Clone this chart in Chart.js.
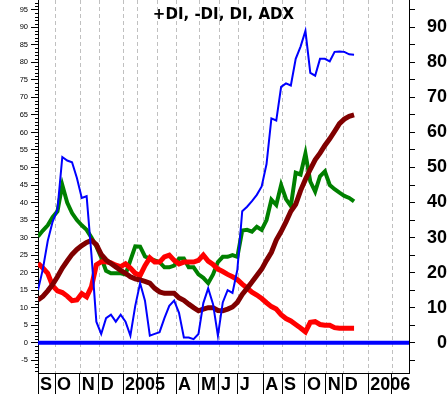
<!DOCTYPE html>
<html><head><meta charset="utf-8">
<script src="https://cdn.jsdelivr.net/npm/chart.js@4/dist/chart.umd.min.js"></script>
<style>html,body{margin:0;padding:0;background:#fff;}canvas{display:block;}</style>
</head><body>
<canvas id="c" width="447" height="394"></canvas>
<script>
const titleText = '+DI, -DI, DI, ADX';
const monthLabels = ['S','O','N','D','2005','','','A','M','J','J','A','S','O','N','D','2006',''];
const monthStartWeeks = [0, 3.5, 8.6, 12.5, 17.5, 20.4, 24.5, 28.4, 33.1, 37.2, 41.1, 46.3, 50.2, 54.9, 59.2, 62.7, 67.9, 72.8];
const diLine = [15,21,29,34.5,38,53,52,51.5,47,41.3,41.8,25,6,2.5,7,8,6,8,6,2,10.5,17,12,2,2.5,3,7,10.5,12,8.5,1.5,1.5,1,2.5,11.3,15.5,11,2,11.5,15,14.2,20.8,37.5,38.8,40.4,42.2,44.6,51,64,63.4,73,74,73.4,81,84.5,89,77,76.2,81,81,80.3,83,83.1,83,82.3,82.2];
const plusDI = [30.3,32,33.5,35.8,37.5,45,40,37,35,33.5,32.2,30,27.5,24.3,20.5,19.8,19.8,19.8,19.5,23.5,27.5,27.4,24.6,24,23.5,23,21.5,21.5,22,24,24,21.5,21.5,19.5,18.5,17,19.5,23,24.5,24.5,25,24.5,32,32.2,31.7,33.1,32.2,35,40.8,39.3,45,41,39,48.5,48,54,46,43.1,47.5,48.9,45,43.8,42.8,41.9,41.3,40.3];
const minusDI = [22.7,21.3,19.8,16.3,14.8,14.3,13.3,12,12.2,14,13.1,16,22.2,23.1,23.1,22.8,22.1,21.7,22.5,21.3,19.8,19.2,22,24.2,23,23,24.5,25,23.5,22.5,23,23,23,23.5,25,23.3,22.3,21,20.3,19.5,18.8,18,16.7,15.6,14.4,13.6,12.6,11.4,10.3,9.6,8,6.9,6.2,5.2,4.2,3.1,5.8,6,5.2,5,5,4.3,4.1,4.1,4.1,4.1];
const adx = [12.2,13.2,14.8,16.6,18.8,21.3,23.3,25.2,26.6,27.7,28.6,29.2,28,25.2,23.6,22.6,21.6,20.6,19.8,18.8,18.2,17.9,17.5,17,15.5,14.5,14.1,14.1,14.1,12.8,12.1,11,10,9.1,9.6,10,10,9.2,9.1,9.6,10.2,11.5,13.8,15.5,17.3,19.2,21,23.5,25.8,29.3,31.7,34.5,37.5,39.5,43.4,46.6,49.5,52.2,54.1,56.3,58.2,60.3,62.5,63.8,64.6,65];
const zeroLine = [0, 0];
const yTickValues = [-5,0,5,10,15,20,25,30,35,40,45,50,55,60,65,70,75,80,85,90,95];
const xRange = [0, 76.3];
const yRange = [-8.65, 97.8];

const pts = arr => arr.map((v, i) => ({x: i, y: v}));
const FONT = '"Liberation Sans", Arial, sans-serif';

const extras = {
  id: 'extras',
  beforeDatasetsDraw(chart) {
    const {ctx, chartArea: a, scales: {x}} = chart;
    ctx.save();
    ctx.strokeStyle = '#c0c0c0'; ctx.lineWidth = 1; ctx.setLineDash([4, 3]);
    monthStartWeeks.forEach(w => {
      if (w <= x.min) return;
      const px = Math.round(x.getPixelForValue(w)) + 0.5;
      ctx.beginPath(); ctx.moveTo(px, a.top); ctx.lineTo(px, a.bottom); ctx.stroke();
    });
    ctx.restore();
  },
  afterDraw(chart) {
    const {ctx, scales: {y}} = chart;
    ctx.save();
    ctx.strokeStyle = '#000'; ctx.lineWidth = 1;
    for (let v = Math.ceil(y.min); v <= Math.floor(y.max); v++) {
      if (v % 5 === 0) continue;
      const py = Math.round(y.getPixelForValue(v)) + 0.5;
      ctx.beginPath(); ctx.moveTo(y.right - 3, py); ctx.lineTo(y.right, py); ctx.stroke();
    }
    ctx.fillStyle = '#000';
    ctx.font = 'bold 15px "DejaVu Sans"';
    ctx.textAlign = 'center'; ctx.textBaseline = 'alphabetic';
    ctx.fillText(titleText, 223.5, 19);
    ctx.restore();
  }
};

const yTicks = s => { s.ticks = yTickValues.map(v => ({value: v})); };

new Chart(document.getElementById('c'), {
  type: 'line',
  data: {
    datasets: [
      {label: 'DI', data: pts(diLine), borderColor: '#0000ff', borderWidth: 2, order: 1},
      {label: 'ADX', data: pts(adx), borderColor: '#800000', borderWidth: 5, order: 2},
      {label: '-DI', data: pts(minusDI), borderColor: '#ff0000', borderWidth: 5, order: 3},
      {label: '+DI', data: pts(plusDI), borderColor: '#008000', borderWidth: 4, order: 4},
      {label: 'zero', data: zeroLine.map((v, i) => ({x: xRange[i], y: v})), borderColor: '#0000ff', borderWidth: 4, order: 5}
    ]
  },
  options: {
    responsive: false, animation: false, devicePixelRatio: 1,
    layout: {padding: 0, autoPadding: false},
    plugins: {legend: {display: false}, tooltip: {enabled: false}, title: {display: false}},
    elements: {point: {radius: 0}, line: {tension: 0, fill: false}},
    scales: {
      x: {
        type: 'linear', position: 'bottom', min: xRange[0], max: xRange[1],
        afterBuildTicks: s => { s.ticks = monthStartWeeks.map(v => ({value: v})); },
        afterFit: s => { s.height = 21; s.paddingLeft = 0; s.paddingRight = 0; },
        grid: {drawOnChartArea: false, drawTicks: true, tickLength: 21, tickColor: '#000', tickWidth: 1},
        border: {display: true, color: '#000', width: 1},
        ticks: {autoSkip: false, maxRotation: 0, minRotation: 0, align: 'start', labelOffset: 2, padding: -20,
          color: '#000', font: {family: FONT, size: 18, weight: 'bold'},
          callback: (v, i) => monthLabels[i]}
      },
      y: {
        position: 'left', min: yRange[0], max: yRange[1],
        afterBuildTicks: yTicks,
        afterFit: s => { s.width = 38; s.paddingTop = 0; s.paddingBottom = 0; },
        grid: {drawOnChartArea: false, tickLength: 7, tickColor: '#000'},
        border: {display: true, color: '#000', width: 1},
        ticks: {autoSkip: false, padding: 3, color: '#000', font: {family: FONT, size: 7.5},
          callback: v => String(v)}
      },
      y2: {
        position: 'right', min: yRange[0], max: yRange[1],
        afterBuildTicks: yTicks,
        afterFit: s => { s.width = 38; s.paddingTop = 0; s.paddingBottom = 0; },
        grid: {drawOnChartArea: false, tickLength: 6, tickColor: '#000'},
        border: {display: true, color: '#000', width: 1},
        ticks: {autoSkip: false, crossAlign: 'far', padding: 8, color: '#000', font: {family: FONT, size: 18, weight: 'bold'},
          callback: v => (v % 10 === 0 ? String(v) : '')}
      }
    }
  },
  plugins: [extras]
});
</script>
</body></html>
